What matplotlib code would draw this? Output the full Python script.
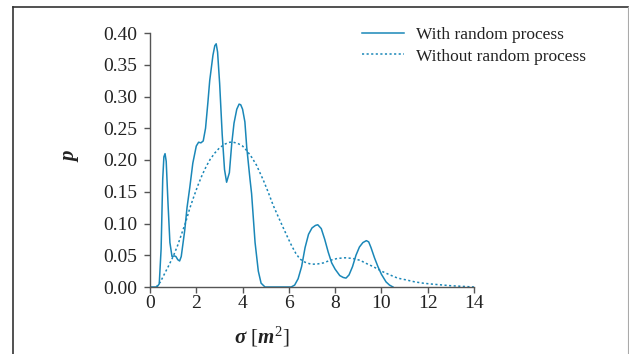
import matplotlib
matplotlib.use("Agg")
import matplotlib.pyplot as plt
from matplotlib.lines import Line2D

plt.rcParams['font.family'] = ['Liberation Serif', 'DejaVu Serif']
plt.rcParams['mathtext.fontset'] = 'custom'
plt.rcParams['mathtext.rm'] = 'Liberation Serif'
plt.rcParams['mathtext.it'] = 'Liberation Serif:italic:bold'
plt.rcParams['mathtext.bf'] = 'Liberation Serif:bold'

# With random process (solid)
x_with = [0.0, 0.3, 0.4, 0.48, 0.55, 0.6, 0.65, 0.7, 0.78, 0.86, 0.95, 1.05, 1.12, 1.2, 1.28,
          1.35, 1.5, 1.6, 1.72, 1.85, 2.0, 2.1, 2.2, 2.3, 2.4, 2.5, 2.58, 2.72, 2.8, 2.86, 2.92,
          3.01, 3.12, 3.22, 3.31, 3.43, 3.53, 3.63, 3.75, 3.85, 3.92, 4.0, 4.1, 4.18, 4.32, 4.39,
          4.54, 4.68, 4.8, 4.97, 6.1, 6.25, 6.4, 6.55, 6.7, 6.85, 7.0, 7.15, 7.25, 7.4,
          7.55, 7.7, 7.85, 8.0, 8.2, 8.35, 8.47, 8.6, 8.75, 8.9, 9.05, 9.2, 9.35, 9.45, 9.55, 9.7, 9.85,
          10.0, 10.2, 10.35, 10.5]
p_with = [0.0, 0.0, 0.005, 0.06, 0.17, 0.205, 0.21, 0.198, 0.13, 0.07, 0.048, 0.049, 0.048, 0.043, 0.041,
          0.048, 0.089, 0.125, 0.157, 0.195, 0.222, 0.228, 0.227, 0.23, 0.25, 0.29, 0.325, 0.365, 0.38, 0.383, 0.37,
          0.32, 0.24, 0.185, 0.165, 0.18, 0.225, 0.258, 0.28, 0.288, 0.287, 0.28, 0.26, 0.22, 0.17, 0.147,
          0.07, 0.025, 0.006, 0.0, 0.0, 0.003, 0.013, 0.032, 0.062, 0.083, 0.093, 0.097, 0.098, 0.092,
          0.075, 0.055, 0.038, 0.028, 0.018, 0.015, 0.014, 0.019, 0.032, 0.05, 0.063, 0.07, 0.073, 0.071, 0.062, 0.046, 0.032,
          0.02, 0.008, 0.003, 0.0]

# Without random process (dotted)
x_without = [0.27, 0.45, 0.63, 0.8, 1.0, 1.2, 1.35, 1.55, 1.72, 1.9, 2.07, 2.25, 2.43, 2.6, 2.8,
             3.0, 3.23, 3.45, 3.6, 3.8, 4.0, 4.2, 4.4, 4.6, 4.9, 5.1, 5.33, 5.55, 5.76, 5.95,
             6.12, 6.3, 6.48, 6.7, 6.95, 7.2, 7.5, 7.78, 8.1, 8.43, 8.75, 9.08, 9.35, 9.65,
             10.0, 10.37, 10.7, 11.09, 11.45, 11.81, 12.2, 12.53, 13.0, 13.5, 14.0]
p_without = [0.0, 0.008, 0.021, 0.033, 0.048, 0.066, 0.082, 0.103, 0.124, 0.143, 0.160, 0.176, 0.19, 0.201, 0.211,
             0.219, 0.225, 0.228, 0.228, 0.226, 0.222, 0.214, 0.204, 0.192, 0.168, 0.15, 0.128, 0.11, 0.093, 0.078,
             0.065, 0.053, 0.044, 0.039, 0.036, 0.036, 0.038, 0.042, 0.045, 0.046, 0.045, 0.042, 0.037, 0.032,
             0.025, 0.019, 0.014, 0.011, 0.008, 0.006, 0.0045, 0.0035, 0.002, 0.001, 0.0]

x_ticks = [0, 2, 4, 6, 8, 10, 12, 14]
y_ticks = [0.00, 0.05, 0.10, 0.15, 0.20, 0.25, 0.30, 0.35, 0.40]

color = '#1a87b8'

fig = plt.figure(figsize=(6.29, 3.54), dpi=100)
ax = fig.add_axes([150/629, 1-287/354, 324/629, 254/354])

ax.plot(x_with, p_with, color=color, lw=1.1, label='With random process')
ax.plot(x_without, p_without, color=color, lw=1.1, linestyle=(0, (1.4, 1.6)),
        label='Without random process')

ax.set_xlim(0, 14)
ax.set_ylim(0, 0.4)
ax.set_xticks(x_ticks)
ax.set_yticks(y_ticks)
ax.set_yticklabels([f'{v:.2f}' for v in y_ticks])
for s in ['top', 'right']:
    ax.spines[s].set_visible(False)
for s in ['left', 'bottom']:
    ax.spines[s].set_color('#555555')
    ax.spines[s].set_linewidth(1.0)
ax.tick_params(axis='both', direction='out', length=4, width=1.0, color='#555555',
               labelsize=14, labelcolor='#222222')
ax.tick_params(axis='y', pad=5)
ax.tick_params(axis='x', pad=1.5)

fig.text(262/629, 1-337/354, r'$\sigma$ [$m^2$]', fontsize=15, ha='center', va='center',
         color='#222222')
fig.text(70/629, 1-157/354, 'p', fontsize=15, fontweight='bold', fontstyle='italic',
         rotation=90, ha='center', va='center', color='#222222')

leg = ax.legend(loc='upper left', bbox_to_anchor=(362/629, 1-27/354), bbox_transform=fig.transFigure,
                frameon=False, fontsize=12.5, handlelength=2.4, handletextpad=0.7,
                labelspacing=0.3, borderaxespad=0, borderpad=0)
for t in leg.get_texts():
    t.set_color('#222222')

# outer frame
fig.add_artist(Line2D([13/629, 13/629], [0, 1-7/354], transform=fig.transFigure, color='#333333', lw=1.2))
fig.add_artist(Line2D([13/629, 628/629], [1-7/354, 1-7/354], transform=fig.transFigure, color='#333333', lw=1.2))
fig.add_artist(Line2D([627.5/629, 627.5/629], [0, 1-7/354], transform=fig.transFigure, color='#aaaaaa', lw=0.8))

fig.savefig('out.png', dpi=100)
